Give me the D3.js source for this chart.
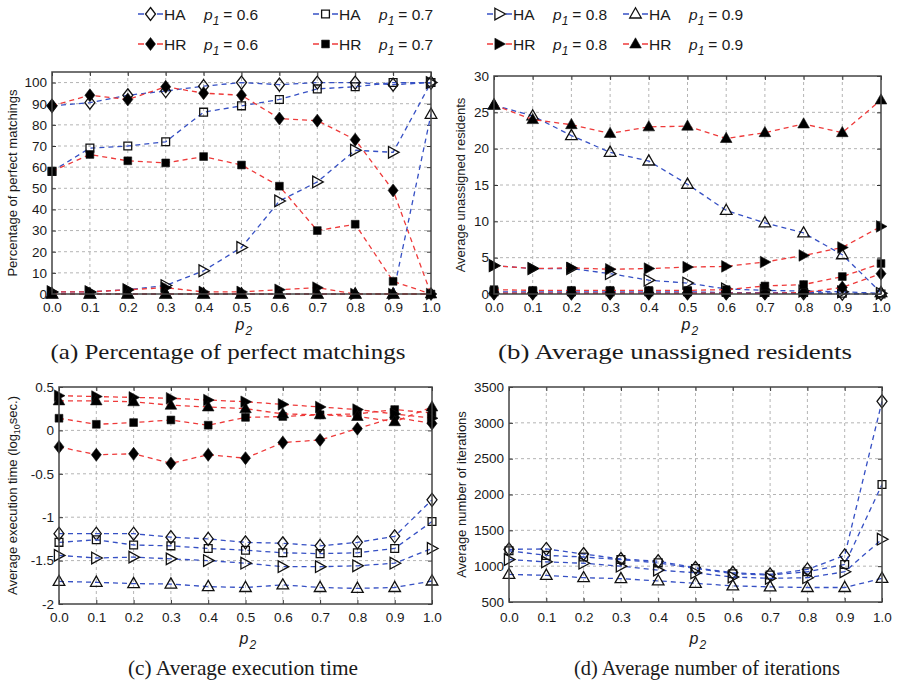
<!DOCTYPE html>
<html><head><meta charset="utf-8">
<script src="https://cdn.jsdelivr.net/npm/d3@7"></script>
<style>
body{margin:0;background:#fff}
text{font-family:"Liberation Sans",Arial,Helvetica,sans-serif;fill:#1a1a1a}
.cap{font-family:"Liberation Serif","DejaVu Serif",serif}
</style>
</head><body>
<svg id="c" width="899" height="689"></svg>
<script>
// ---------------- data ----------------
const p2 = [0,0.1,0.2,0.3,0.4,0.5,0.6,0.7,0.8,0.9,1.0];
const xTickLabels = ["0.0","0.1","0.2","0.3","0.4","0.5","0.6","0.7","0.8","0.9","1.0"];
const p1Values = ["0.6","0.7","0.8","0.9"];

// (a) percentage of perfect matchings
const perfHA06 = [89,90.5,94,96,98.3,100,99,100,100,99,100];
const perfHA07 = [58,69,70,72,86,89,92,97,98,100,100];
const perfHA08 = [1,1,2,4,11,22,44,53,68,67,100];
const perfHA09 = [0,0,0,0,0,0,0,0,0,0,85];
const perfHR06 = [89,94,92,98,95,94,83,82,73,49,0];
const perfHR07 = [58,66,63,62,65,61,51,30,33,6,0];
const perfHR08 = [1,1,2,3,1,1,2,3,0,0,0];
const perfHR09 = [0,0,0,0,0,0,0,0,0,0,0];
const perfTicks = [0,10,20,30,40,50,60,70,80,90,100];
const perfTickLabels = ["0","10","20","30","40","50","60","70","80","90","100"];

// (b) average unassigned residents
const unHA06 = [0.1,0.1,0.1,0.1,0.1,0.1,0.1,0.1,0.1,0.05,0];
const unHA07 = [0.3,0.3,0.3,0.3,0.3,0.3,0.2,0.2,0.2,0.1,0];
const unHA08 = [3.9,3.5,3.5,2.8,1.9,1.5,0.7,0.5,0.4,0.3,0.1];
const unHA09 = [26,24.5,21.8,19.5,18.3,15.1,11.5,9.8,8.4,5.4,0.2];
const unHR06 = [0.1,0.1,0.1,0.1,0.1,0.1,0.1,0.1,0.2,0.9,2.8];
const unHR07 = [0.6,0.5,0.5,0.5,0.5,0.5,0.6,1.1,1.3,2.4,4.2];
const unHR08 = [3.9,3.5,3.6,3.4,3.5,3.7,3.8,4.4,5.3,6.4,9.3];
const unHR09 = [26,24,23.3,22.1,23,23.1,21.4,22.2,23.4,22.2,26.7];
const unTicks = [0,5,10,15,20,25,30];
const unTickLabels = ["0","5","10","15","20","25","30"];

// (c) average execution time (log10 sec.)
const timeHA06 = [-1.19,-1.19,-1.19,-1.23,-1.25,-1.29,-1.30,-1.33,-1.29,-1.22,-0.80];
const timeHA07 = [-1.29,-1.26,-1.32,-1.33,-1.36,-1.38,-1.41,-1.42,-1.41,-1.36,-1.05];
const timeHA08 = [-1.44,-1.47,-1.46,-1.48,-1.50,-1.53,-1.57,-1.57,-1.56,-1.53,-1.36];
const timeHA09 = [-1.74,-1.75,-1.765,-1.77,-1.80,-1.81,-1.78,-1.81,-1.82,-1.81,-1.735];
const timeHR06 = [-0.19,-0.28,-0.27,-0.38,-0.28,-0.32,-0.14,-0.11,0.02,0.15,0.08];
const timeHR07 = [0.14,0.07,0.09,0.12,0.06,0.15,0.16,0.18,0.19,0.24,0.20];
const timeHR08 = [0.40,0.39,0.38,0.37,0.35,0.33,0.30,0.27,0.24,0.19,0.14];
const timeHR09 = [0.34,0.34,0.33,0.29,0.27,0.25,0.19,0.18,0.16,0.10,0.27];
const timeTicks = [-2,-1.5,-1,-0.5,0,0.5];
const timeTickLabels = ["-2","-1.5","-1","-0.5","0","0.5"];

// (d) average number of iterations
const iterHA06 = [1235,1240,1170,1100,1070,977,908,885,954,1150,3300];
const iterHA07 = [1215,1150,1128,1092,1046,968,895,876,922,1023,2140];
const iterHA08 = [1092,1060,1041,1000,945,908,849,830,839,922,1376];
const iterHA09 = [885,872,839,826,794,761,725,711,702,702,830];
const iterTicks = [500,1000,1500,2000,2500,3000,3500];
const iterTickLabels = ["500","1000","1500","2000","2500","3000","3500"];

// ---------------- styles ----------------
const BLUE = "#3650c4", RED = "#ee3a3a";
const shapes = ["diamond","square","triR","triU"];

function shapePath(s){
  if(s==="diamond") return "M0,-6.5L5,0L0,6.5L-5,0Z";
  if(s==="square") return "M-3.9,-3.9L3.9,-3.9L3.9,3.9L-3.9,3.9Z";
  if(s==="triR") return "M-4.6,-5.8L6,0L-4.6,5.8Z";
  return "M0,-6.2L5.8,4L-5.8,4Z";
}

const svg = d3.select("#c");

function seriesSet(ha, hr){
  const out = [];
  ha.forEach((v,i)=>out.push({values:v, color:BLUE, shape:shapes[i], filled:false}));
  (hr||[]).forEach((v,i)=>out.push({values:v, color:RED, shape:shapes[i], filled:true}));
  return out;
}

const panels = [
  {left:52,right:431,top:72,bottom:294,ydom:[0,105],ticks:perfTicks,tl:perfTickLabels,
   series:seriesSet([perfHA06,perfHA07,perfHA08,perfHA09],[perfHR06,perfHR07,perfHR08,perfHR09]),
   ylab:[{t:"Percentage of perfect matchings"}], ylabX:17, tickY:312, xlabY:330,
   cap:"(a) Percentage of perfect matchings", capX:228, capY:359, capW:355},
  {left:494,right:881,top:76,bottom:294,ydom:[0,30],ticks:unTicks,tl:unTickLabels,
   series:seriesSet([unHA06,unHA07,unHA08,unHA09],[unHR06,unHR07,unHR08,unHR09]),
   ylab:[{t:"Average unassigned residents"}], ylabX:465, tickY:312, xlabY:330,
   cap:"(b) Average unassigned residents", capX:675, capY:359, capW:354},
  {left:59,right:432,top:387,bottom:604,ydom:[-2,0.5],ticks:timeTicks,tl:timeTickLabels,
   series:seriesSet([timeHA06,timeHA07,timeHA08,timeHA09],[timeHR06,timeHR07,timeHR08,timeHR09]),
   ylab:[{t:"Average execution time (log"},{t:"10",sub:true},{t:"sec.)"}], ylabX:17, tickY:622, xlabY:644,
   cap:"(c) Average execution time", capX:243, capY:675, capW:230},
  {left:509,right:882,top:387,bottom:602,ydom:[500,3500],ticks:iterTicks,tl:iterTickLabels,
   series:seriesSet([iterHA06,iterHA07,iterHA08,iterHA09],null),
   ylab:[{t:"Average number of iterations"}], ylabX:466, tickY:622, xlabY:644,
   cap:"(d) Average number of iterations", capX:707, capY:675, capW:266}
];

panels.forEach(P=>{
  const x = d3.scaleLinear().domain([0,1]).range([P.left,P.right]);
  const y = d3.scaleLinear().domain(P.ydom).range([P.bottom,P.top]);
  const g = svg.append("g");

  // grid
  g.append("g").selectAll("line").data(p2.slice(1,-1)).join("line")
    .attr("x1",d=>x(d)).attr("x2",d=>x(d)).attr("y1",P.top).attr("y2",P.bottom)
    .attr("stroke","#b4b4b4").attr("stroke-width",1).attr("stroke-dasharray","3,3");
  g.append("g").selectAll("line").data(P.ticks.filter(t=>y(t)>P.top+1 && y(t)<P.bottom-1)).join("line")
    .attr("x1",P.left).attr("x2",P.right).attr("y1",d=>y(d)).attr("y2",d=>y(d))
    .attr("stroke","#b4b4b4").attr("stroke-width",1).attr("stroke-dasharray","3,3");

  // axes via d3 axis (labels), ticks inward
  const xa = g.append("g").attr("transform",`translate(0,${P.bottom})`)
    .call(d3.axisBottom(x).tickValues(p2).tickFormat((d,i)=>xTickLabels[i]).tickSizeInner(-4).tickSizeOuter(0).tickPadding(0));
  xa.select(".domain").remove();
  xa.selectAll(".tick line").attr("stroke","#333");
  xa.selectAll(".tick text").attr("y",P.tickY-P.bottom).attr("dy",0).attr("font-size",13.5).attr("fill","#1a1a1a")
    .style("font-family",'"Liberation Sans",Arial,sans-serif');
  const xt = g.append("g").attr("transform",`translate(0,${P.top})`)
    .call(d3.axisTop(x).tickValues(p2).tickFormat("").tickSizeInner(-4).tickSizeOuter(0));
  xt.select(".domain").remove(); xt.selectAll(".tick line").attr("stroke","#333");

  const ya = g.append("g").attr("transform",`translate(${P.left},0)`)
    .call(d3.axisLeft(y).tickValues(P.ticks).tickFormat((d,i)=>P.tl[i]).tickSizeInner(-4).tickSizeOuter(0).tickPadding(0));
  ya.select(".domain").remove();
  ya.selectAll(".tick line").attr("stroke","#333");
  ya.selectAll(".tick text").attr("x",-5).attr("font-size",13.5).attr("fill","#1a1a1a")
    .style("font-family",'"Liberation Sans",Arial,sans-serif');
  const yr = g.append("g").attr("transform",`translate(${P.right},0)`)
    .call(d3.axisRight(y).tickValues(P.ticks).tickFormat("").tickSizeInner(-4).tickSizeOuter(0));
  yr.select(".domain").remove(); yr.selectAll(".tick line").attr("stroke","#333");

  // series
  const line = d3.line().x((d,i)=>x(p2[i])).y(d=>y(d));
  P.series.forEach(s=>{
    g.append("path").attr("d",line(s.values)).attr("fill","none")
      .attr("stroke",s.color).attr("stroke-width",1.3).attr("stroke-dasharray","5,4");
    g.append("g").selectAll("path").data(s.values).join("path")
      .attr("transform",(d,i)=>`translate(${x(p2[i])},${y(d)})`)
      .attr("d",shapePath(s.shape))
      .attr("fill",s.filled?"#000":"none")
      .attr("stroke","#111").attr("stroke-width",s.filled?0.6:1.3);
  });

  // frame
  g.append("rect").attr("x",P.left).attr("y",P.top).attr("width",P.right-P.left).attr("height",P.bottom-P.top)
    .attr("fill","none").attr("stroke","#444").attr("stroke-width",1.5);

  // x label
  const cx = (P.left+P.right)/2;
  const xl = g.append("text").attr("x",cx-6).attr("y",P.xlabY).attr("font-size",16).attr("font-style","italic");
  xl.append("tspan").text("p");
  xl.append("tspan").attr("font-size",12).attr("dy",5).attr("dx",1).text("2");

  // y label
  const cy = (P.top+P.bottom)/2;
  const yl = g.append("text").attr("transform",`translate(${P.ylabX},${cy}) rotate(-90)`)
    .attr("text-anchor","middle").attr("font-size",13);
  P.ylab.forEach((part,i)=>{
    const t = yl.append("tspan").text(part.t);
    if(part.sub){ t.attr("font-size",9).attr("dy",3); }
    else if(i>0 && P.ylab[i-1].sub){ t.attr("dy",-3); }
  });

  // caption
  g.append("text").attr("class","cap").attr("x",P.capX).attr("y",P.capY).attr("text-anchor","middle")
    .attr("font-size",21).attr("textLength",P.capW).attr("lengthAdjust","spacingAndGlyphs").text(P.cap);
});

// ---------------- legend ----------------
const legCols = [138,313,487,623];
const legRows = [{lab:"HA",color:BLUE,filled:false,y:14},{lab:"HR",color:RED,filled:true,y:44}];
const lg = svg.append("g");
legRows.forEach(r=>{
  legCols.forEach((x0,i)=>{
    const it = lg.append("g").attr("transform",`translate(${x0},${r.y})`);
    it.append("line").attr("x1",0).attr("x2",6).attr("y1",0).attr("y2",0).attr("stroke",r.color).attr("stroke-width",1.5);
    it.append("line").attr("x1",19).attr("x2",25).attr("y1",0).attr("y2",0).attr("stroke",r.color).attr("stroke-width",1.5);
    it.append("path").attr("transform","translate(12.5,0)").attr("d",shapePath(shapes[i]))
      .attr("fill",r.filled?"#000":"none").attr("stroke","#111").attr("stroke-width",r.filled?0.6:1.3);
    const t = it.append("text").attr("x",26).attr("y",5.5).attr("font-size",15.5);
    t.append("tspan").text(r.lab);
    t.append("tspan").attr("x",66).attr("font-style","italic").text("p");
    t.append("tspan").attr("font-style","italic").attr("font-size",12).attr("dy",5).text("1");
    t.append("tspan").attr("dy",-5).attr("dx",4).text("= " + p1Values[i]);
  });
});
</script>
</body></html>
